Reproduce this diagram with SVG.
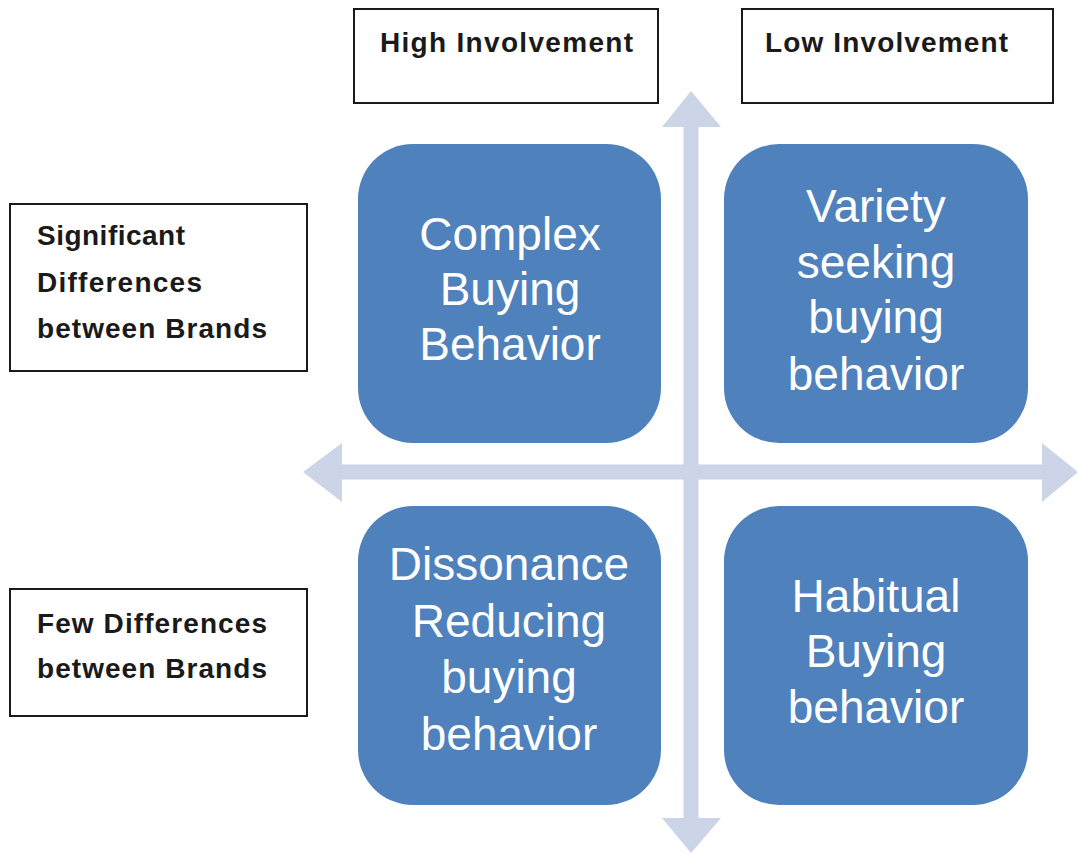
<svg xmlns="http://www.w3.org/2000/svg" width="1079" height="854" viewBox="0 0 1079 854">
  <style>
    .lbl { fill:#ffffff; stroke:#1a1a1a; stroke-width:2; }
    .lt { font-family:"Liberation Sans", Arial, sans-serif; font-weight:bold; font-size:28px; fill:#1a1a1a; }
    .q { fill:#4F81BD; }
    .qt { font-family:"Liberation Sans", Arial, sans-serif; font-size:46px; fill:#ffffff; text-anchor:middle; }
    .ax { fill:#CCD4E8; }
  </style>
  <rect width="1079" height="854" fill="#ffffff"/>
  <g id="connectors">
    <polygon class="ax" points="691,91 721,127 698.5,127 698.5,818 721,818 691,853 662,818 683.5,818 683.5,127 662,127"/>
    <polygon class="ax" points="303,472 342,443 342,464.5 1042,464.5 1042,443 1078,472 1042,502 1042,479.5 342,479.5 342,502"/>
  </g>
  <g id="high-involvement">
    <rect class="lbl" x="354" y="9" width="304" height="94"/>
    <text class="lt" x="380" y="52" textLength="253" lengthAdjust="spacing">High Involvement</text>
  </g>
  <g id="low-involvement">
    <rect class="lbl" x="742" y="9" width="311" height="94"/>
    <text class="lt" x="765" y="52" textLength="243" lengthAdjust="spacing">Low Involvement</text>
  </g>
  <g id="significant-differences">
    <rect class="lbl" x="10" y="204" width="297" height="167"/>
    <text class="lt" x="37" y="245" textLength="148" lengthAdjust="spacing">Significant</text>
    <text class="lt" x="37" y="292" textLength="165" lengthAdjust="spacing">Differences</text>
    <text class="lt" x="37" y="338" textLength="230" lengthAdjust="spacing">between Brands</text>
  </g>
  <g id="few-differences">
    <rect class="lbl" x="10" y="589" width="297" height="127"/>
    <text class="lt" x="37" y="633" textLength="230" lengthAdjust="spacing">Few Differences</text>
    <text class="lt" x="37" y="678" textLength="230" lengthAdjust="spacing">between Brands</text>
  </g>
  <g id="complex-buying">
    <rect class="q" x="358" y="144" width="303" height="299" rx="55" ry="55"/>
    <text class="qt" x="510" y="250">Complex</text>
    <text class="qt" x="510" y="305">Buying</text>
    <text class="qt" x="510" y="360">Behavior</text>
  </g>
  <g id="variety-seeking">
    <rect class="q" x="724" y="144" width="304" height="299" rx="55" ry="55"/>
    <text class="qt" x="876" y="222">Variety</text>
    <text class="qt" x="876" y="278">seeking</text>
    <text class="qt" x="876" y="333">buying</text>
    <text class="qt" x="876" y="390">behavior</text>
  </g>
  <g id="dissonance-reducing">
    <rect class="q" x="358" y="506" width="303" height="299" rx="55" ry="55"/>
    <text class="qt" x="509" y="580">Dissonance</text>
    <text class="qt" x="509" y="637">Reducing</text>
    <text class="qt" x="509" y="693">buying</text>
    <text class="qt" x="509" y="750">behavior</text>
  </g>
  <g id="habitual-buying">
    <rect class="q" x="724" y="506" width="304" height="299" rx="55" ry="55"/>
    <text class="qt" x="876" y="612">Habitual</text>
    <text class="qt" x="876" y="667">Buying</text>
    <text class="qt" x="876" y="723">behavior</text>
  </g>
</svg>
